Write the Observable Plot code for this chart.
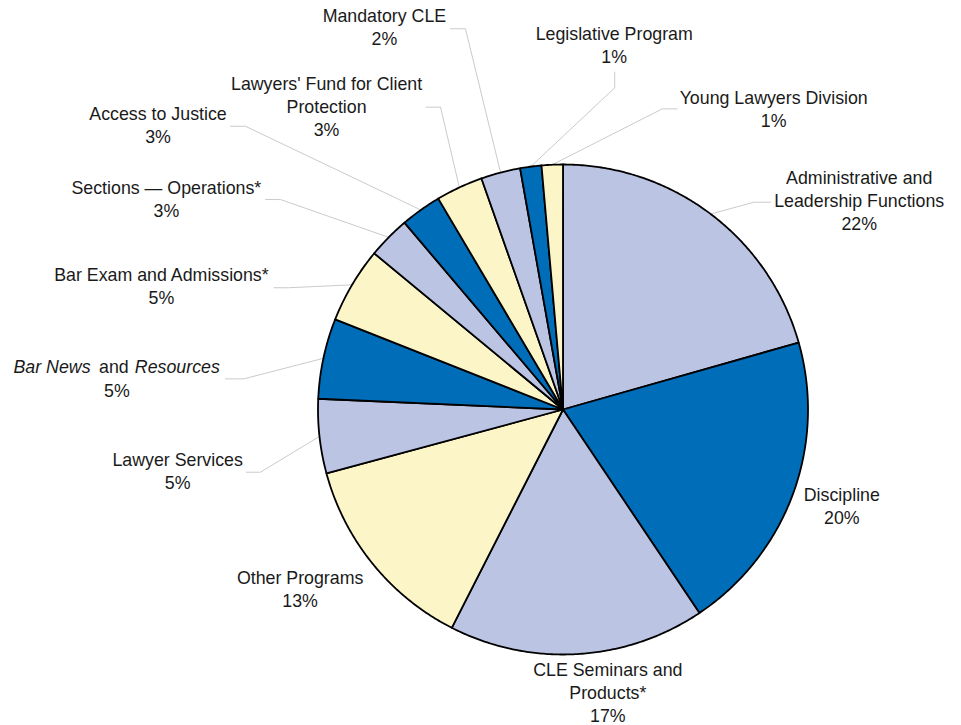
<!DOCTYPE html>
<html>
<head>
<meta charset="utf-8">
<script src="https://cdn.jsdelivr.net/npm/d3@7"></script>
<script src="https://cdn.jsdelivr.net/npm/@observablehq/plot@0.6"></script>
<style>
  html, body { margin: 0; padding: 0; background: #fff; }
  #chart svg { display: block; }
</style>
</head>
<body>
<div id="chart"></div>
<script>
// ---- data (clockwise from 12 o'clock) ----
const categories = [
  "Administrative and\nLeadership Functions",
  "Discipline",
  "CLE Seminars and\nProducts*",
  "Other Programs",
  "Lawyer Services",
  "Bar News and Resources",
  "Bar Exam and Admissions*",
  "Sections \u2014 Operations*",
  "Access to Justice",
  "Lawyers' Fund for Client\nProtection",
  "Mandatory CLE",
  "Legislative Program",
  "Young Lawyers Division"
];
const shares = [20.6, 20.0, 16.9, 13.3, 4.9, 5.3, 5.0, 2.8, 2.7, 3.1, 2.6, 1.4, 1.4];
const pctLabels = ["22%", "20%", "17%", "13%", "5%", "5%", "5%", "3%", "3%", "3%", "2%", "1%", "1%"];
const sliceColors = ["#BBC4E3", "#006DB8", "#BBC4E3", "#FBF5C8", "#BBC4E3", "#006DB8", "#FBF5C8",
                     "#BBC4E3", "#006DB8", "#FBF5C8", "#BBC4E3", "#006DB8", "#FBF5C8"];

// ---- layout (in pie-radius units, centre = 0,0, y up) ----
const W = 961, H = 725, CX = 562.5, CY = 409, R = 245;
const labelPos = [
  [1.209, 0.731], [1.138, -0.467], [0.183, -1.276], [-1.073, -0.807],
  [-1.573, -0.324], [-1.821, 0.053], [-1.639, 0.429], [-1.619, 0.787],
  [-1.653, 1.087], [-0.965, 1.118], [-0.729, 1.486], [0.209, 1.416], [0.860, 1.155]
];
const leaderElbows = [
  [[0.847, 0.846], [0.779, 0.846]], null, null, null,
  [[-1.293, -0.256], [-1.235, -0.256]],
  [[-1.378, 0.125], [-1.303, 0.125]],
  [[-1.180, 0.497], [-1.120, 0.497]],
  [[-1.214, 0.857], [-1.153, 0.857]],
  [[-1.357, 1.156], [-1.296, 1.156]],
  [[-0.558, 1.234], [-0.500, 1.234]],
  [[-0.459, 1.554], [-0.398, 1.554]],
  [[0.211, 1.377], [0.211, 1.313]],
  [[0.466, 1.227], [0.405, 1.227]]
];

const FONT = "'Liberation Sans', Arial, Helvetica, sans-serif";
const FS = 17.8, LH = 1.29;

// ---- geometry from data ----
const arcs = d3.pie().sort(null).value(d => d)(shares);
const slicePts = [];
arcs.forEach((a, i) => {
  const n = Math.max(2, Math.ceil((a.endAngle - a.startAngle) / (Math.PI / 360)));
  slicePts.push({i, x: 0, y: 0});
  for (let k = 0; k <= n; k++) {
    const t = a.startAngle + (a.endAngle - a.startAngle) * k / n;
    slicePts.push({i, x: Math.sin(t), y: Math.cos(t)});
  }
  slicePts.push({i, x: 0, y: 0});
});

const leaderPts = [];
arcs.forEach((a, i) => {
  const e = leaderElbows[i];
  if (!e) return;
  e.forEach(([x, y]) => leaderPts.push({i, x, y}));
  const m = (a.startAngle + a.endAngle) / 2;
  leaderPts.push({i, x: Math.sin(m), y: Math.cos(m)});
});

const labelData = categories.map((c, i) => ({
  i,
  x: labelPos[i][0],
  y: labelPos[i][1],
  text: i === 5 ? pctLabels[i] : c + "\n" + pctLabels[i]
}));
const bn = [labelData[5]];

const textCommon = {
  x: "x", y: "y", fontSize: FS, fontFamily: FONT, fill: "#1a1a1a",
  lineAnchor: "bottom", lineHeight: LH
};

const chart = Plot.plot({
  width: W, height: H, margin: 0,
  x: {domain: [-CX / R, (W - CX) / R], range: [0, W], axis: null},
  y: {domain: [-(H - CY) / R, CY / R], range: [H, 0], axis: null},
  color: {type: "identity"},
  style: {background: "#fff", overflow: "visible"},
  marks: [
    Plot.line(leaderPts, {x: "x", y: "y", z: "i", stroke: "#c4c4c4", strokeWidth: 0.9, curve: "linear"}),
    Plot.line(slicePts, {x: "x", y: "y", z: "i", fill: d => sliceColors[d.i], stroke: "#000",
      strokeWidth: 1.8, strokeLinejoin: "round", curve: "linear"}),
    Plot.text(labelData, {...textCommon, text: "text", textAnchor: "middle"}),
    Plot.text(bn, {...textCommon, text: () => "Bar News", textAnchor: "end", dx: -26.3, dy: -23.5, fontStyle: "italic"}),
    Plot.text(bn, {...textCommon, text: () => "and", textAnchor: "middle", dx: -3, dy: -23.5}),
    Plot.text(bn, {...textCommon, text: () => "Resources", textAnchor: "start", dx: 18, dy: -23.5, fontStyle: "italic"})
  ]
});
document.getElementById("chart").appendChild(chart);
</script>
</body>
</html>
